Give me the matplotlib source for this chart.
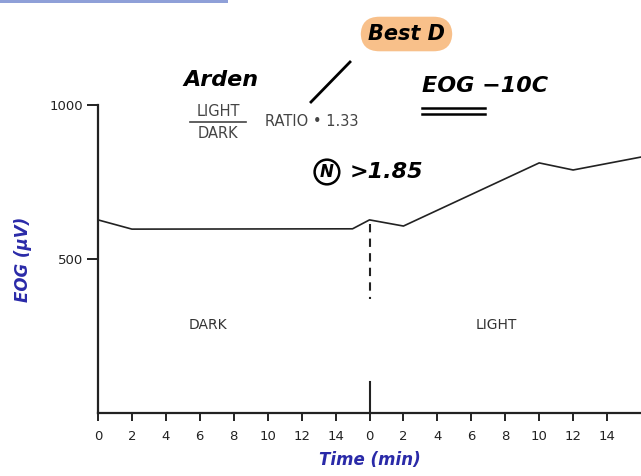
import matplotlib.pyplot as plt
import matplotlib.patches as mpatches

# data (elapsed minutes: 0-16 dark, 16-32 light)
time = [0, 2, 15, 16, 18, 26, 28, 32]
eog = [627, 597, 598, 627, 607, 812, 789, 831]
tick_pos = [0, 2, 4, 6, 8, 10, 12, 14, 16, 18, 20, 22, 24, 26, 28, 30]
tick_labels = ['0', '2', '4', '6', '8', '10', '12', '14',
               '0', '2', '4', '6', '8', '10', '12', '14']
y_ticks = [500, 1000]
switch_time = 16

fig = plt.figure(figsize=(6.41, 4.76), dpi=100)
ax = fig.add_axes([98 / 641, 63 / 476, 1 - 98 / 641, 308 / 476])

ink = '#222222'
ax.plot(time, eog, color=ink, lw=1.2)

# dark -> light switch marker
ax.plot([switch_time, switch_time], [615, 370], color=ink, lw=1.5, ls=(0, (4, 3)))
ax.plot([switch_time, switch_time], [0, 100], color=ink, lw=1.5)

ax.set_xlim(0, 32)
ax.set_ylim(0, 1000)
ax.set_xticks(tick_pos)
ax.set_xticklabels(tick_labels)
ax.set_yticks(y_ticks)
ax.set_yticklabels([str(v) for v in y_ticks])
ax.tick_params(axis='both', direction='out', colors=ink, labelsize=9.5, width=1.4)
ax.tick_params(axis='x', length=6, pad=6)
ax.tick_params(axis='y', length=8, pad=3)
for s in ['top', 'right']:
    ax.spines[s].set_visible(False)
for s in ['left', 'bottom']:
    ax.spines[s].set_linewidth(1.6)
    ax.spines[s].set_color(ink)

ax.set_ylabel('EOG (μV)', color='#2a2aa8', fontsize=12, fontweight='bold',
              style='italic', labelpad=12)
ax.set_xlabel('Time (min)', color='#2a2aa8', fontsize=12, fontweight='bold',
              style='italic', labelpad=6)

ax.text(6.5, 285, 'DARK', color='#333333', fontsize=10, ha='center', va='center')
ax.text(23.5, 285, 'LIGHT', color='#333333', fontsize=10, ha='center', va='center')

# printed ratio text
grey = '#444444'
fig.text(218 / 641, 1 - 111 / 476, 'LIGHT', fontsize=10.5, color=grey, ha='center', va='center')
fig.text(218 / 641, 1 - 133 / 476, 'DARK', fontsize=10.5, color=grey, ha='center', va='center')
fig.add_artist(plt.Line2D([190 / 641, 246 / 641], [1 - 122 / 476, 1 - 122 / 476],
                          color=grey, lw=1.2))
fig.text(265 / 641, 1 - 122 / 476, 'RATIO • 1.33', fontsize=10.5, color=grey, va='center')

# handwritten notes
hand = dict(color='black', fontsize=16, style='italic', fontweight='bold', va='center')
fig.text(183 / 641, 1 - 80 / 476, 'Arden', **hand)
fig.add_artist(plt.Line2D([311 / 641, 350 / 641], [1 - 102 / 476, 1 - 62 / 476],
                          color='black', lw=2))
fig.text(368 / 641, 1 - 34 / 476, 'Best D', color='black', fontsize=15, style='italic',
         fontweight='bold', va='center',
         bbox=dict(boxstyle='round,pad=0.35,rounding_size=0.9', fc='#f8c08a', ec='none'))
fig.text(422 / 641, 1 - 86 / 476, 'EOG −10C', **hand)
for yy in (108, 114):
    fig.add_artist(plt.Line2D([422 / 641, 485 / 641], [1 - yy / 476, 1 - yy / 476],
                              color='black', lw=1.8))
fig.text(320 / 641, 1 - 172 / 476, 'N', color='black', fontsize=12, style='italic',
         fontweight='bold', va='center',
         bbox=dict(boxstyle='circle,pad=0.2', fc='none', ec='black', lw=1.8))
fig.text(350 / 641, 1 - 172 / 476, '>1.85', **hand)

# blue strip at top left
fig.add_artist(mpatches.Rectangle((0, 1 - 3 / 476), 228 / 641, 3 / 476,
                                  transform=fig.transFigure, color='#8fa0d8', lw=0))

fig.savefig('out.png', dpi=100)
